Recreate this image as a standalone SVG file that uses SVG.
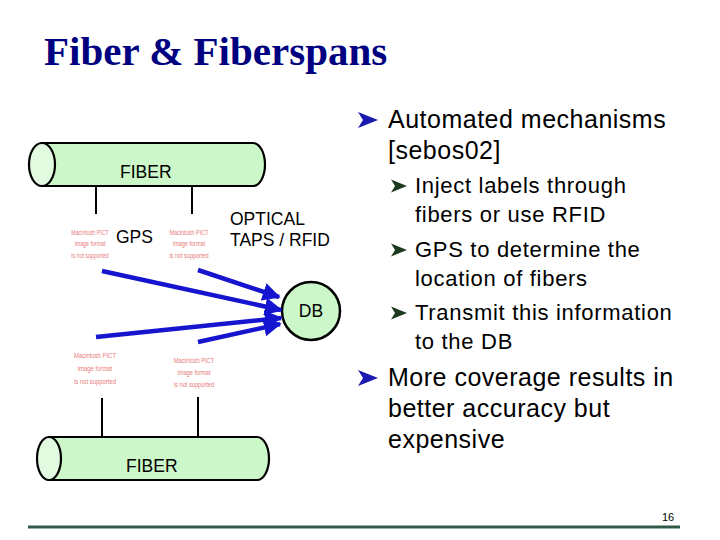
<svg xmlns="http://www.w3.org/2000/svg" width="720" height="540" viewBox="0 0 720 540">
<defs>
<style>
.title{font-family:"Liberation Serif","Times New Roman",serif;font-weight:bold;font-size:41px;fill:#000080}
.lbl{font-family:"Liberation Sans",Arial,sans-serif;font-size:17.5px;fill:#000}
.main{font-family:"Liberation Sans",Arial,sans-serif;font-size:25px;letter-spacing:0.5px;fill:#000}
.sub{font-family:"Liberation Sans",Arial,sans-serif;font-size:22px;letter-spacing:0.7px;fill:#000}
.pict{font-family:"Liberation Sans",Arial,sans-serif;font-size:8px;fill:#E87A7A;text-anchor:middle}
.cyl{fill:#CCF7C8;stroke:#000;stroke-width:2.2}
.cap{fill:#E2FBE0;stroke:#000;stroke-width:2.2}
.stem{stroke:#000;stroke-width:2}
.arr{stroke:#1515D0;stroke-width:4.5;fill:none;marker-end:url(#ah)}
</style>
<marker id="ah" viewBox="0 0 10 10" refX="9" refY="5" markerWidth="4" markerHeight="4" orient="auto" markerUnits="strokeWidth">
<path d="M0,0 L10,5 L0,10 Z" fill="#1515D0"/>
</marker>
<path id="bm" d="M0,-8 L20,0 L0,8 L5,0 Z"/>
<path id="bs" d="M0,-6.5 L16,0 L0,6.5 L4,0 Z"/>
</defs>
<rect width="720" height="540" fill="#fff"/>
<text class="title" x="44" y="65">Fiber &amp; Fiberspans</text>

<g id="fiber-top">
<path class="cyl" d="M42,143 L253,143 A12,21.5 0 0 1 253,186 L42,186 Z"/>
<ellipse class="cap" cx="42" cy="164.5" rx="13" ry="21.5"/>
<text class="lbl" x="120" y="178">FIBER</text>
</g>

<g id="fiber-bottom">
<path class="cyl" d="M49,437 L257,437 A12,21.5 0 0 1 257,480 L49,480 Z"/>
<ellipse class="cap" cx="49" cy="458.5" rx="12" ry="21.5"/>
<text class="lbl" x="126" y="472">FIBER</text>
</g>

<g id="pict1" transform="translate(90 0) scale(0.66 1)">
<text class="pict" x="0" y="235">Macintosh PICT</text>
<text class="pict" x="0" y="246">image format</text>
<text class="pict" x="0" y="258">is not supported</text>
</g>
<g id="pict2" transform="translate(189 0) scale(0.69 1)">
<text class="pict" x="0" y="235">Macintosh PICT</text>
<text class="pict" x="0" y="246">image format</text>
<text class="pict" x="0" y="258">is not supported</text>
</g>
<g id="pict3" transform="translate(95 0) scale(0.74 1)">
<text class="pict" x="0" y="358">Macintosh PICT</text>
<text class="pict" x="0" y="371">image format</text>
<text class="pict" x="0" y="384">is not supported</text>
</g>
<g id="pict4" transform="translate(194 0) scale(0.71 1)">
<text class="pict" x="0" y="363">Macintosh PICT</text>
<text class="pict" x="0" y="375">image format</text>
<text class="pict" x="0" y="387">is not supported</text>
</g>

<g id="gps"><text class="lbl" x="116" y="243">GPS</text></g>
<g id="taps">
<text class="lbl" x="230" y="225">OPTICAL</text>
<text class="lbl" x="230" y="246">TAPS / RFID</text>
</g>

<g id="db">
<circle cx="311" cy="311" r="29" fill="#CCF7C8" stroke="#000" stroke-width="2.5"/>
<text class="lbl" x="311" y="317" text-anchor="middle">DB</text>
</g>

<g id="connectors">
<line class="stem" x1="96" y1="186" x2="96" y2="214"/>
<line class="stem" x1="192" y1="186" x2="192" y2="214"/>
<line class="stem" x1="102" y1="398" x2="102" y2="437"/>
<line class="stem" x1="198" y1="397" x2="198" y2="437"/>
<line class="arr" x1="102" y1="271" x2="281" y2="310"/>
<line class="arr" x1="198" y1="270" x2="279" y2="297"/>
<line class="arr" x1="96" y1="337" x2="281" y2="318"/>
<line class="arr" x1="198" y1="342" x2="280" y2="324"/>
</g>

<g id="bullets">
<use href="#bm" x="358" y="120" fill="#1A1AB0"/>
<text class="main" x="388" y="128">Automated mechanisms</text>
<text class="main" x="388" y="159">[sebos02]</text>
<use href="#bs" x="391" y="186" fill="#1E3A1E"/>
<text class="sub" x="415" y="193">Inject labels through</text>
<text class="sub" x="415" y="222">fibers or use RFID</text>
<use href="#bs" x="391" y="250" fill="#1E3A1E"/>
<text class="sub" x="415" y="257">GPS to determine the</text>
<text class="sub" x="415" y="286">location of fibers</text>
<use href="#bs" x="391" y="313" fill="#1E3A1E"/>
<text class="sub" x="415" y="320">Transmit this information</text>
<text class="sub" x="415" y="349">to the DB</text>
<use href="#bm" x="358" y="378" fill="#1A1AB0"/>
<text class="main" x="388" y="386">More coverage results in</text>
<text class="main" x="388" y="417">better accuracy but</text>
<text class="main" x="388" y="448">expensive</text>
</g>

<line x1="28" y1="527" x2="680" y2="527" stroke="#2F5A48" stroke-width="3"/>
<text x="662" y="521" font-family="'Liberation Sans',sans-serif" font-size="11" fill="#000">16</text>
</svg>
